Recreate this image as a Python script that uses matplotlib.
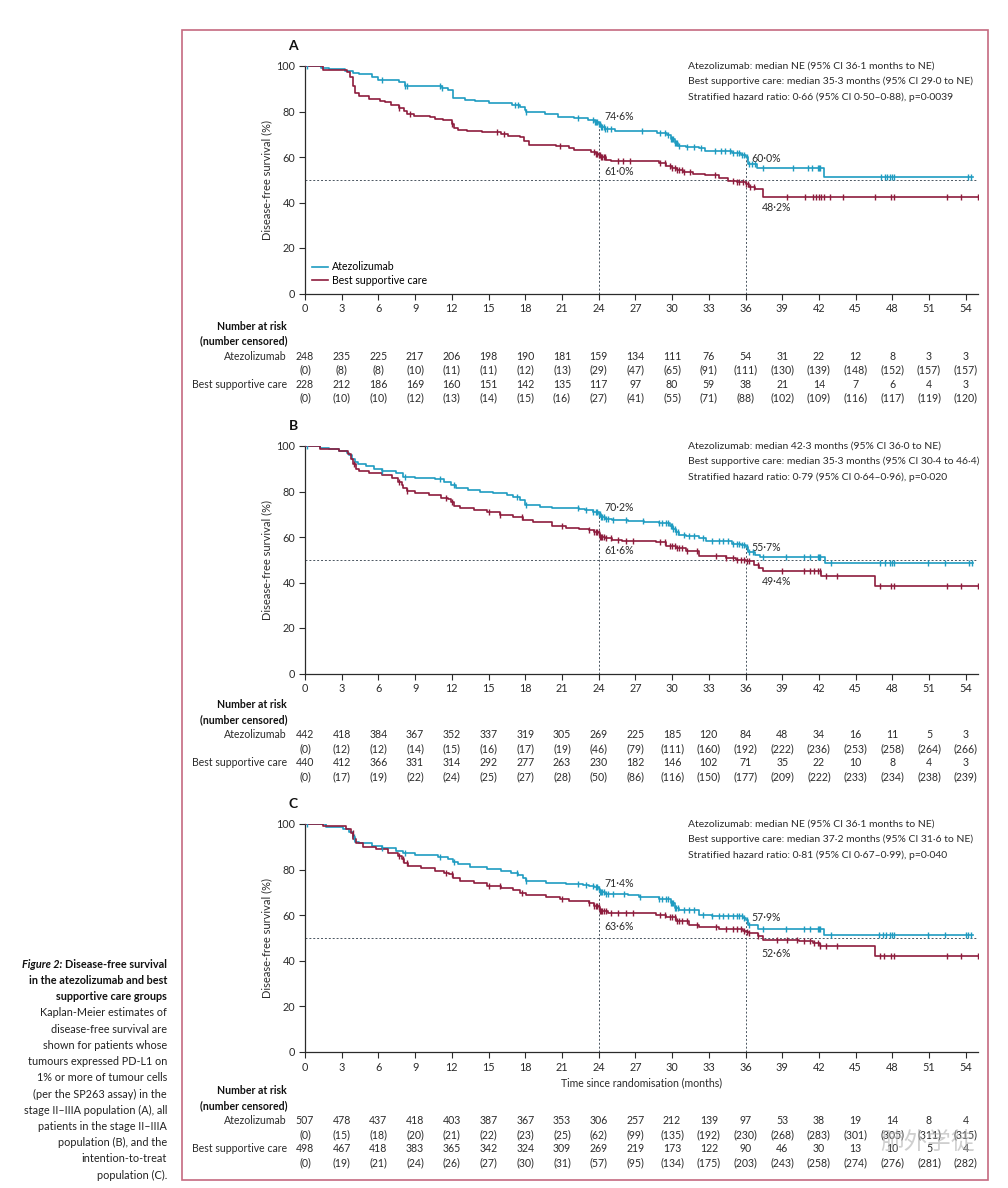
import matplotlib.pyplot as plt
import matplotlib.transforms as mtransforms
from matplotlib.patches import Rectangle
import numpy as np

plt.rcParams['font.family'] = ['Lato', 'DejaVu Sans']

TEAL = '#1f9cc1'
WINE = '#8e1c3d'
INK = '#2b2b2b'

months = list(range(0, 55, 3))

# ---- panel A : PD-L1 >=1%, stage II-IIIA ----
a_atz_t = [0, 1.3, 2.0, 3.3, 3.9, 4.4, 5.5, 6.0, 7.7, 8.2, 10.4, 11.2, 11.7, 12.1, 13.1, 13.9,
           15.0, 16.9, 17.6, 18.0, 18.1, 19.6, 20.7, 22.0, 23.1, 23.7, 24.0, 24.2, 24.5, 25.3,
           28.8, 29.6, 29.9, 30.2, 30.5, 31.1, 32.2, 32.7, 34.9, 35.6, 36.0, 36.2, 36.9, 42.4]
a_atz_s = [100, 99.3, 98.6, 98.0, 97.0, 96.4, 95.0, 93.7, 92.8, 91.4, 91.0, 90.3, 89.3, 86.0, 85.2, 84.4,
           83.8, 82.8, 81.8, 80.6, 79.6, 78.8, 77.5, 77.0, 76.2, 75.4, 74.6, 73.4, 72.4, 71.4,
           70.4, 69.5, 67.8, 66.0, 65.0, 64.4, 63.8, 62.5, 61.8, 60.8, 60.0, 57.0, 55.2, 51.2]
a_atz_end = 54.6
a_atz_cens = [0.2, 6.3, 8.2, 8.3, 11.0, 11.2, 17.2, 17.4, 18.1, 22.3, 23.5, 23.7, 23.8, 23.9, 24.0, 24.1,
              24.2, 24.3, 24.4, 24.5, 24.7, 25.0, 27.5, 29.0, 29.4, 29.7, 29.9, 30.0, 30.1, 30.2, 30.3,
              30.4, 30.6, 31.2, 31.8, 32.4, 33.5, 34.0, 34.3, 34.7, 35.0, 35.3, 35.5, 35.7, 35.9, 36.1,
              36.3, 36.5, 36.8, 37.4, 39.9, 41.1, 41.4, 41.9, 42.0, 42.1, 47.1, 47.4, 47.6, 47.8, 48.0,
              48.1, 54.2, 54.4]
a_bsc_t = [0, 1.5, 3.4, 3.7, 3.9, 4.1, 4.4, 5.2, 6.1, 6.5, 7.0, 7.7, 8.1, 8.3, 8.9, 10.2, 10.6, 11.3,
           12.0, 12.2, 12.5, 13.2, 14.5, 16.0, 16.6, 17.6, 17.9, 18.3, 20.5, 21.6, 22.0, 23.4, 23.8,
           24.0, 24.2, 24.6, 25.0, 28.9, 29.5, 30.0, 30.4, 30.9, 31.7, 32.7, 33.8, 34.6, 35.3, 36.0,
           36.3, 36.8, 37.4]
a_bsc_s = [100, 98.4, 97.4, 95.0, 91.0, 88.0, 86.6, 85.4, 84.8, 84.0, 83.0, 81.6, 80.2, 78.8, 78.2, 77.5,
           76.8, 76.2, 74.5, 72.8, 71.8, 71.3, 70.8, 70.0, 69.2, 68.6, 67.0, 65.4, 64.7, 64.0, 63.0,
           62.3, 61.5, 61.0, 59.8, 58.8, 58.2, 57.2, 56.2, 55.0, 54.2, 53.2, 52.6, 51.9, 50.6, 49.6,
           48.8, 48.2, 46.9, 46.0, 42.6]
a_bsc_end = 55.0
a_bsc_cens = [7.7, 8.6, 12.0, 15.7, 16.3, 20.8, 23.6, 23.8, 23.9, 24.0, 24.1, 24.2, 24.3, 24.4, 24.5,
              25.6, 26.0, 26.6, 29.0, 29.4, 29.8, 30.0, 30.2, 30.4, 30.6, 30.8, 31.0, 31.5, 33.5, 35.0,
              35.3, 35.5, 35.8, 36.0, 36.2, 36.4, 36.7, 39.4, 40.9, 41.5, 41.8, 42.0, 42.2, 42.4, 42.9,
              44.0, 46.6, 47.9, 48.1, 52.5, 53.6, 55.0]
a_stats = ['Atezolizumab: median NE (95% CI 36·1 months to NE)',
           'Best supportive care: median 35·3 months (95% CI 29·0 to NE)',
           'Stratified hazard ratio: 0·66 (95% CI 0·50–0·88), p=0·0039']
a_pct = ['74·6%', '61·0%', '60·0%', '48·2%']
a_atz_n = [248, 235, 225, 217, 206, 198, 190, 181, 159, 134, 111, 76, 54, 31, 22, 12, 8, 3, 3]
a_atz_c = [0, 8, 8, 10, 11, 11, 12, 13, 29, 47, 65, 91, 111, 130, 139, 148, 152, 157, 157]
a_bsc_n = [228, 212, 186, 169, 160, 151, 142, 135, 117, 97, 80, 59, 38, 21, 14, 7, 6, 4, 3]
a_bsc_c = [0, 10, 10, 12, 13, 14, 15, 16, 27, 41, 55, 71, 88, 102, 109, 116, 117, 119, 120]

# ---- panel B : all stage II-IIIA ----
b_atz_t = [0, 1.2, 2.0, 2.8, 3.4, 3.6, 3.85, 4.05, 4.3, 5.0, 5.6, 6.3, 7.4, 8.0, 9.0, 10.6, 11.4, 11.9,
           12.3, 13.3, 14.3, 15.4, 16.5, 17.0, 17.6, 18.0, 19.2, 20.2, 22.4, 22.9, 23.5, 24.0, 24.2,
           24.5, 25.1, 26.4, 27.7, 28.9, 29.8, 30.1, 30.3, 30.6, 31.1, 32.2, 32.8, 34.9, 35.6, 36.0,
           36.2, 36.8, 37.2, 42.5]
b_atz_s = [100, 99.2, 98.5, 97.8, 97.1, 96.0, 94.5, 93.0, 92.0, 91.1, 90.1, 89.1, 88.0, 86.5, 85.8, 85.3,
           84.3, 82.8, 81.4, 80.7, 79.9, 79.4, 78.5, 77.8, 76.3, 74.1, 73.4, 72.7, 72.2, 71.7, 71.0,
           70.2, 69.0, 68.0, 67.6, 67.2, 66.6, 66.0, 65.0, 63.5, 62.3, 61.0, 60.6, 59.6, 58.1, 57.0,
           56.3, 55.7, 53.5, 52.0, 51.1, 48.4]
b_atz_end = 54.6
b_atz_cens = [0.2, 6.3, 8.2, 11.0, 12.2, 17.3, 18.1, 22.3, 23.0, 23.5, 23.8, 23.9, 24.0, 24.1, 24.2,
              24.3, 24.4, 24.6, 24.8, 25.2, 26.2, 27.6, 28.9, 29.2, 29.5, 29.7, 29.9, 30.0, 30.1, 30.2,
              30.3, 30.5, 31.0, 31.4, 31.8, 32.5, 33.3, 33.8, 34.2, 34.6, 35.0, 35.3, 35.5, 35.7, 35.9,
              36.1, 36.3, 36.6, 37.4, 39.3, 40.8, 41.3, 41.9, 42.0, 42.1, 43.0, 47.0, 47.4, 47.8, 48.0,
              48.1, 50.9, 52.3, 54.3, 54.5]
b_bsc_t = [0, 1.2, 2.8, 3.5, 3.75, 3.95, 4.15, 4.4, 5.2, 6.3, 7.1, 7.6, 7.9, 8.0, 8.3, 9.0, 10.1, 11.1,
           11.7, 11.9, 12.2, 12.7, 13.8, 14.9, 15.9, 17.0, 17.8, 18.6, 20.2, 21.3, 22.4, 23.2, 23.6,
           24.0, 24.1, 24.5, 25.1, 25.9, 28.7, 29.5, 30.3, 31.1, 32.2, 34.4, 35.2, 36.0, 36.7, 37.1,
           37.4, 42.2, 46.6]
b_bsc_s = [100, 98.8, 97.8, 96.7, 94.5, 92.3, 90.1, 89.2, 88.2, 87.2, 85.8, 84.3, 82.8, 81.4, 80.2, 79.5,
           78.5, 77.0, 76.5, 75.6, 73.7, 72.7, 71.7, 70.8, 69.8, 68.8, 67.6, 66.4, 65.0, 64.0, 63.5,
           63.0, 62.2, 61.6, 60.2, 59.4, 58.6, 58.1, 57.7, 56.2, 55.2, 53.7, 51.8, 50.8, 50.0, 49.4,
           47.8, 46.4, 44.9, 42.9, 38.5]
b_bsc_end = 55.0
b_bsc_cens = [4.0, 7.7, 8.3, 11.5, 12.0, 15.0, 15.9, 17.7, 21.0, 23.2, 23.6, 23.8, 23.9, 24.0, 24.1,
              24.2, 24.3, 24.4, 24.6, 25.0, 25.6, 26.2, 26.8, 29.0, 29.4, 29.8, 30.0, 30.2, 30.4, 30.6,
              30.8, 31.2, 32.0, 33.6, 34.4, 35.0, 35.3, 35.6, 35.9, 36.1, 36.3, 37.0, 39.0, 40.8, 41.3,
              41.6, 41.9, 42.1, 42.6, 43.5, 47.0, 47.9, 48.1, 52.5, 53.6, 55.0]
b_stats = ['Atezolizumab: median 42·3 months (95% CI 36·0 to NE)',
           'Best supportive care: median 35·3 months (95% CI 30·4 to 46·4)',
           'Stratified hazard ratio: 0·79 (95% CI 0·64–0·96), p=0·020']
b_pct = ['70·2%', '61·6%', '55·7%', '49·4%']
b_atz_n = [442, 418, 384, 367, 352, 337, 319, 305, 269, 225, 185, 120, 84, 48, 34, 16, 11, 5, 3]
b_atz_c = [0, 12, 12, 14, 15, 16, 17, 19, 46, 79, 111, 160, 192, 222, 236, 253, 258, 264, 266]
b_bsc_n = [440, 412, 366, 331, 314, 292, 277, 263, 230, 182, 146, 102, 71, 35, 22, 10, 8, 4, 3]
b_bsc_c = [0, 17, 19, 22, 24, 25, 27, 28, 50, 86, 116, 150, 177, 209, 222, 233, 234, 238, 239]

# ---- panel C : intention-to-treat ----
c_atz_t = [0, 1.7, 3.1, 3.6, 3.9, 4.1, 4.4, 5.5, 6.3, 7.4, 8.0, 9.0, 10.9, 11.7, 12.1, 12.5, 13.5,
           14.9, 16.0, 16.8, 17.4, 17.8, 18.1, 19.7, 21.3, 22.7, 23.2, 23.6, 24.0, 24.1, 24.5, 26.4,
           27.3, 28.9, 29.9, 30.2, 30.6, 32.2, 33.3, 35.8, 36.0, 36.2, 37.0, 42.4]
c_atz_s = [100, 98.8, 97.7, 96.6, 94.5, 92.3, 91.5, 90.4, 89.3, 88.3, 87.2, 86.4, 85.7, 84.5, 83.2, 82.3,
           81.0, 80.1, 79.4, 78.7, 77.7, 76.2, 75.0, 74.3, 73.7, 73.2, 72.8, 72.2, 71.4, 70.0, 69.2,
           68.9, 68.2, 67.1, 65.3, 63.1, 62.4, 60.2, 59.5, 58.8, 57.9, 55.9, 54.0, 51.1]
c_atz_end = 54.6
c_atz_cens = [0.2, 4.0, 6.3, 8.2, 11.0, 12.2, 17.3, 18.1, 22.3, 23.0, 23.5, 23.8, 23.9, 24.0, 24.1,
              24.2, 24.3, 24.4, 24.6, 24.8, 25.2, 26.1, 27.4, 28.9, 29.2, 29.5, 29.7, 29.9, 30.0, 30.1,
              30.2, 30.3, 30.5, 31.0, 31.4, 31.8, 32.5, 33.3, 33.8, 34.2, 34.6, 35.0, 35.3, 35.5, 35.7,
              35.9, 36.1, 36.3, 37.4, 39.3, 40.8, 41.3, 41.9, 42.0, 42.1, 43.0, 46.9, 47.2, 47.5, 47.8,
              48.0, 48.1, 50.9, 52.3, 54.0, 54.2, 54.4]
c_bsc_t = [0, 1.5, 3.35, 3.75, 3.95, 4.15, 4.7, 5.8, 6.8, 7.6, 7.9, 8.1, 8.4, 9.5, 10.6, 11.4, 11.8,
           12.1, 12.7, 13.8, 14.9, 16.0, 17.0, 17.6, 18.1, 19.7, 20.8, 21.6, 23.2, 23.6, 24.0, 24.1,
           24.8, 28.7, 29.5, 30.3, 31.4, 32.2, 33.8, 35.8, 36.0, 36.3, 37.0, 37.4, 40.4, 41.5, 42.1,
           46.6]
c_bsc_s = [100, 99.3, 97.7, 95.9, 93.3, 91.5, 90.1, 88.9, 87.4, 86.0, 84.5, 82.8, 81.6, 80.6, 79.6, 78.7,
           78.1, 76.2, 75.0, 74.0, 73.0, 71.8, 71.1, 69.9, 68.9, 68.2, 67.2, 66.3, 65.3, 64.1, 63.6,
           61.9, 61.0, 60.2, 59.2, 57.3, 55.9, 54.8, 54.1, 53.0, 52.6, 52.0, 50.8, 49.0, 48.6, 47.8,
           46.4, 42.3]
c_bsc_end = 55.0
c_bsc_cens = [3.9, 7.7, 8.0, 8.3, 11.5, 12.0, 15.0, 15.9, 17.7, 21.0, 23.2, 23.6, 23.8, 23.9, 24.0,
              24.1, 24.2, 24.3, 24.4, 24.6, 25.0, 25.6, 26.2, 26.8, 29.0, 29.4, 29.8, 30.0, 30.2, 30.4,
              30.6, 30.8, 31.2, 32.0, 33.6, 34.4, 35.0, 35.3, 35.6, 35.9, 36.1, 36.3, 37.0, 38.6, 39.4,
              40.2, 40.8, 41.3, 41.6, 41.9, 42.1, 42.6, 43.5, 47.0, 47.3, 47.9, 48.1, 52.5, 53.6, 55.0]
c_stats = ['Atezolizumab: median NE (95% CI 36·1 months to NE)',
           'Best supportive care: median 37·2 months (95% CI 31·6 to NE)',
           'Stratified hazard ratio: 0·81 (95% CI 0·67–0·99), p=0·040']
c_pct = ['71·4%', '63·6%', '57·9%', '52·6%']
c_atz_n = [507, 478, 437, 418, 403, 387, 367, 353, 306, 257, 212, 139, 97, 53, 38, 19, 14, 8, 4]
c_atz_c = [0, 15, 18, 20, 21, 22, 23, 25, 62, 99, 135, 192, 230, 268, 283, 301, 305, 311, 315]
c_bsc_n = [498, 467, 418, 383, 365, 342, 324, 309, 269, 219, 173, 122, 90, 46, 30, 13, 10, 5, 4]
c_bsc_c = [0, 19, 21, 24, 26, 27, 30, 31, 57, 95, 134, 175, 203, 243, 258, 274, 276, 281, 282]

caption = ['Kaplan-Meier estimates of', 'disease-free survival are', 'shown for patients whose',
           'tumours expressed PD-L1 on', '1% or more of tumour cells', '(per the SP263 assay) in the',
           'stage II–IIIA population (A), all', 'patients in the stage II–IIIA',
           'population (B), and the', 'intention-to-treat', 'population (C).']

W, H = 1008, 1188
fig = plt.figure(figsize=(W / 100, H / 100), dpi=100)


def fy(py):
    return 1 - py / H


def step_at(t, s, x):
    i = np.searchsorted(t, x, side='right') - 1
    return np.asarray(s)[i]


panels = [
    dict(letter='A', top=66, bot=293.5, risk=326, atz=(a_atz_t, a_atz_s, a_atz_end, a_atz_cens),
         bsc=(a_bsc_t, a_bsc_s, a_bsc_end, a_bsc_cens), stats=a_stats, pct=a_pct,
         pct_y=[78, 53.8, 59.2, 37.6], rows=(a_atz_n, a_atz_c, a_bsc_n, a_bsc_c)),
    dict(letter='B', top=446, bot=673.5, risk=705, atz=(b_atz_t, b_atz_s, b_atz_end, b_atz_cens),
         bsc=(b_bsc_t, b_bsc_s, b_bsc_end, b_bsc_cens), stats=b_stats, pct=b_pct,
         pct_y=[73, 54.2, 55.4, 40.6], rows=(b_atz_n, b_atz_c, b_bsc_n, b_bsc_c)),
    dict(letter='C', top=824, bot=1052, risk=1091, atz=(c_atz_t, c_atz_s, c_atz_end, c_atz_cens),
         bsc=(c_bsc_t, c_bsc_s, c_bsc_end, c_bsc_cens), stats=c_stats, pct=c_pct,
         pct_y=[73.7, 54.9, 58.8, 43.0], rows=(c_atz_n, c_atz_c, c_bsc_n, c_bsc_c)),
]

x0, x1 = 305, 978
for k, p in enumerate(panels):
    ax = fig.add_axes([x0 / W, fy(p['bot']), (x1 - x0) / W, (p['bot'] - p['top']) / H])
    ax.set_xlim(0, 55)
    ax.set_ylim(0, 100)
    for sp in ['top', 'right']:
        ax.spines[sp].set_visible(False)
    for sp in ['left', 'bottom']:
        ax.spines[sp].set_color(INK)
        ax.spines[sp].set_linewidth(0.9)
    ax.set_xticks(months)
    ax.set_yticks(range(0, 101, 20))
    ax.tick_params(length=4, width=0.8, color=INK, labelsize=7.8, labelcolor=INK, pad=3)

    # reference lines
    ax.axhline(50, color='#4a5560', lw=0.7, dashes=(2, 2), zorder=1)
    atz_t, atz_s, atz_end, atz_cens = p['atz']
    for m in (24, 36):
        ax.vlines(m, 0, step_at(atz_t, atz_s, m), color='#4a5560', lw=0.7,
                  linestyles=(0, (2, 2)), zorder=1)

    for (t, s, end, cens), col, lab in [(p['atz'], TEAL, 'Atezolizumab'),
                                        (p['bsc'], WINE, 'Best supportive care')]:
        ax.step(list(t) + [end], list(s) + [s[-1]], where='post', color=col, lw=1.2,
                label=lab, zorder=3)
        ax.plot(cens, step_at(t, s, cens), ls='none', marker='|', ms=5, mew=1.0,
                color=col, zorder=4)

    # landmark labels
    for txt, xm, yv in zip(p['pct'], [24.5, 24.5, 36.5, 37.3], p['pct_y']):
        ax.text(xm, yv, txt, fontsize=7.6, color=INK, va='center', ha='left')

    if k == 0:
        ax.legend(loc='lower left', bbox_to_anchor=(0.0, 0.0), frameon=False, fontsize=7.6,
                  handlelength=1.5, handletextpad=0.4, labelspacing=0.25, borderaxespad=0.3)
    if k == 2:
        fig.text((x0 + x1) / 2 / W, fy(1083), 'Time since randomisation (months)',
                 fontsize=7.6, color=INK, ha='center', va='center')

    fig.text(293 / W, fy(p['top'] - 20), p['letter'], fontsize=10, fontweight='bold',
             color='#111', ha='center', va='center')
    fig.text(267 / W, fy((p['top'] + p['bot']) / 2), 'Disease-free survival (%)', rotation=90,
             fontsize=8, color=INK, ha='center', va='center')
    for i, line in enumerate(p['stats']):
        fig.text(688 / W, fy(p['top'] + i * 15.5), line, fontsize=7.5, color=INK,
                 ha='left', va='center')

    # number at risk table
    tr = mtransforms.blended_transform_factory(ax.transData, fig.transFigure)
    ry = [p['risk'] + d for d in (0, 15, 30, 44, 58, 72)]
    fig.text(287 / W, fy(ry[0]), 'Number at risk', fontsize=7.6, fontweight='bold',
             color='#111', ha='right', va='center')
    fig.text(287 / W, fy(ry[1]), '(number censored)', fontsize=7.6, fontweight='bold',
             color='#111', ha='right', va='center')
    fig.text(287 / W, fy(ry[2]), 'Atezolizumab', fontsize=7.6, color=INK, ha='right', va='center')
    fig.text(287 / W, fy(ry[4]), 'Best supportive care', fontsize=7.6, color=INK,
             ha='right', va='center')
    an, ac, bn, bc = p['rows']
    for j, m in enumerate(months):
        ax.text(m, fy(ry[2]), str(an[j]), transform=tr, fontsize=7.6, color=INK,
                ha='center', va='center')
        ax.text(m, fy(ry[3]), f'({ac[j]})', transform=tr, fontsize=7.6, color=INK,
                ha='center', va='center')
        ax.text(m, fy(ry[4]), str(bn[j]), transform=tr, fontsize=7.6, color=INK,
                ha='center', va='center')
        ax.text(m, fy(ry[5]), f'({bc[j]})', transform=tr, fontsize=7.6, color=INK,
                ha='center', va='center')

# frame
fig.patches.append(Rectangle((182 / W, fy(1180)), (988 - 182) / W, (1180 - 30) / H,
                             transform=fig.transFigure, fill=False, edgecolor='#c56a80', lw=1.2))

# caption at left
cx = 167 / W
t2 = fig.text(cx, fy(965), 'Disease-free survival', fontsize=7.8, fontweight='bold',
              color='#111', ha='right', va='center')
fig.canvas.draw()
bb = t2.get_window_extent()
fig.text(bb.x0 / W, fy(965), 'Figure 2: ', fontsize=7.8, fontweight='bold', fontstyle='italic',
         color='#111', ha='right', va='center')
fig.text(cx, fy(981), 'in the atezolizumab and best', fontsize=7.8, fontweight='bold',
         color='#111', ha='right', va='center')
fig.text(cx, fy(997), 'supportive care groups', fontsize=7.8, fontweight='bold',
         color='#111', ha='right', va='center')
for i, line in enumerate(caption):
    fig.text(cx, fy(1013 + i * 16.2), line, fontsize=7.8, color='#222', ha='right', va='center')

# watermark
fig.text(928 / W, fy(1142), '肺外学徒', fontsize=17, color='#b0b0b0', alpha=0.6,
         family=['Noto Sans CJK SC', 'DejaVu Sans'], ha='center', va='center')

fig.savefig('out.png', dpi=100)
